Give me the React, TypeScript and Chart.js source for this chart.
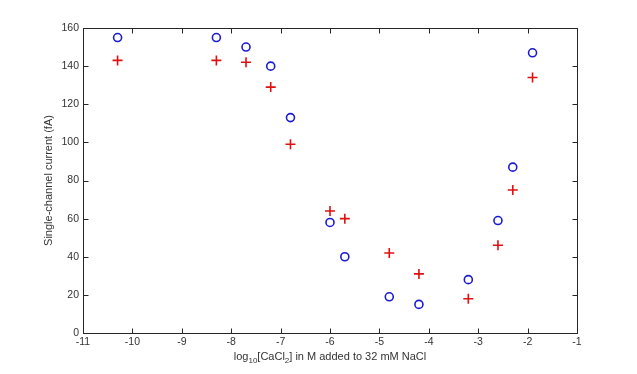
import React, { useEffect, useRef } from 'react';
import { Chart, registerables } from 'chart.js';

Chart.register(...registerables);

const logConc = [-10.3, -8.3, -7.7, -7.2, -6.8, -6.0, -5.7, -4.8, -4.2, -3.2, -2.6, -2.3, -1.9];
const circleCurrent = [155, 155, 150, 140, 113, 58, 40, 19, 15, 28, 59, 87, 147];
const plusCurrent = [143, 143, 142, 129, 99, 64, 60, 42, 31, 18, 46, 75, 134];
const xTicks = [-11, -10, -9, -8, -7, -6, -5, -4, -3, -2, -1];
const yTicks = [0, 20, 40, 60, 80, 100, 120, 140, 160];
const yTitle = 'Single-channel current (fA)';

const FONT = '"Liberation Sans", Arial, sans-serif';

const framePlugin = {
  id: 'frame',
  afterDraw(chart: any) {
    const ctx = chart.ctx;
    const a = chart.chartArea;
    const xs = chart.scales.x;
    const ys = chart.scales.y;
    ctx.save();
    ctx.strokeStyle = '#262626';
    ctx.lineWidth = 1;
    const L = Math.round(a.left) + 0.5;
    const R = Math.round(a.right) + 0.5;
    const T = Math.round(a.top) + 0.5;
    const B = Math.round(a.bottom) + 0.5;
    ctx.strokeRect(L, T, R - L, B - T);
    const tl = 5;
    ctx.beginPath();
    xTicks.forEach((v) => {
      const px = Math.round(xs.getPixelForValue(v)) + 0.5;
      ctx.moveTo(px, B);
      ctx.lineTo(px, B - tl);
      ctx.moveTo(px, T);
      ctx.lineTo(px, T + tl);
    });
    yTicks.forEach((v) => {
      const py = Math.round(ys.getPixelForValue(v)) + 0.5;
      ctx.moveTo(L, py);
      ctx.lineTo(L + tl, py);
      ctx.moveTo(R, py);
      ctx.lineTo(R - tl, py);
    });
    ctx.stroke();

    // y title
    ctx.fillStyle = '#333';
    ctx.font = `11px ${FONT}`;
    ctx.textAlign = 'center';
    ctx.textBaseline = 'middle';
    ctx.save();
    ctx.translate(49, (a.top + a.bottom) / 2);
    ctx.rotate(-Math.PI / 2);
    ctx.fillText(yTitle, 0, 0);
    ctx.restore();

    // x title with subscripts
    const parts: [string, boolean][] = [
      ['log', false],
      ['10', true],
      ['[CaCl', false],
      ['2', true],
      ['] in M added to 32 mM NaCl', false],
    ];
    const mainFont = `11px ${FONT}`;
    const subFont = `8px ${FONT}`;
    let total = 0;
    parts.forEach(([t, sub]) => {
      ctx.font = sub ? subFont : mainFont;
      total += ctx.measureText(t).width;
    });
    let x = (a.left + a.right) / 2 - total / 2;
    const baseY = 360;
    ctx.textAlign = 'left';
    ctx.textBaseline = 'alphabetic';
    parts.forEach(([t, sub]) => {
      ctx.font = sub ? subFont : mainFont;
      ctx.fillText(t, x, sub ? baseY + 3 : baseY);
      x += ctx.measureText(t).width;
    });
    ctx.restore();
  },
};

export default function App() {
  const ref = useRef<HTMLCanvasElement>(null);
  useEffect(() => {
    if (!ref.current) return;
    const chart = new Chart(ref.current, {
      type: 'scatter',
      data: {
        datasets: [
          {
            label: 'circles',
            data: logConc.map((x, i) => ({ x, y: circleCurrent[i] })),
            pointStyle: 'circle',
            pointRadius: 4,
            pointBorderWidth: 1.6,
            pointBorderColor: '#1a1ad0',
            pointBackgroundColor: 'rgba(0,0,0,0)',
            showLine: false,
          },
          {
            label: 'pluses',
            data: logConc.map((x, i) => ({ x, y: plusCurrent[i] })),
            pointStyle: 'cross',
            pointRadius: 5,
            pointBorderWidth: 1.6,
            pointBorderColor: '#e01010',
            pointBackgroundColor: '#e01010',
            showLine: false,
          },
        ],
      },
      options: {
        animation: false,
        responsive: false,
        maintainAspectRatio: false,
        layout: { padding: { left: 0, top: 28, right: 60, bottom: 0 } },
        plugins: { legend: { display: false }, tooltip: { enabled: false } },
        scales: {
          x: {
            type: 'linear',
            min: -11,
            max: -1,
            afterBuildTicks: (s: any) => {
              s.ticks = xTicks.map((v) => ({ value: v }));
            },
            afterFit: (s: any) => {
              s.height = 41;
            },
            grid: { display: false, drawTicks: false, tickLength: 0 },
            border: { display: false },
            ticks: {
              color: '#333',
              font: { family: FONT, size: 10.5 },
              padding: 3,
              maxRotation: 0,
              autoSkip: false,
            },
          },
          y: {
            type: 'linear',
            min: 0,
            max: 160,
            afterBuildTicks: (s: any) => {
              s.ticks = yTicks.map((v) => ({ value: v }));
            },
            afterFit: (s: any) => {
              s.width = 83;
            },
            grid: { display: false, drawTicks: false, tickLength: 0 },
            border: { display: false },
            ticks: {
              color: '#333',
              font: { family: FONT, size: 10.5 },
              padding: 4,
              autoSkip: false,
            },
          },
        },
      },
      plugins: [framePlugin],
    } as any);
    return () => chart.destroy();
  }, []);
  return (
    <div style={{ position: 'fixed', left: 0, top: 0, width: 637, height: 374, background: '#fff' }}>
      <canvas ref={ref} width={637} height={374} style={{ width: 637, height: 374 }} />
    </div>
  );
}
